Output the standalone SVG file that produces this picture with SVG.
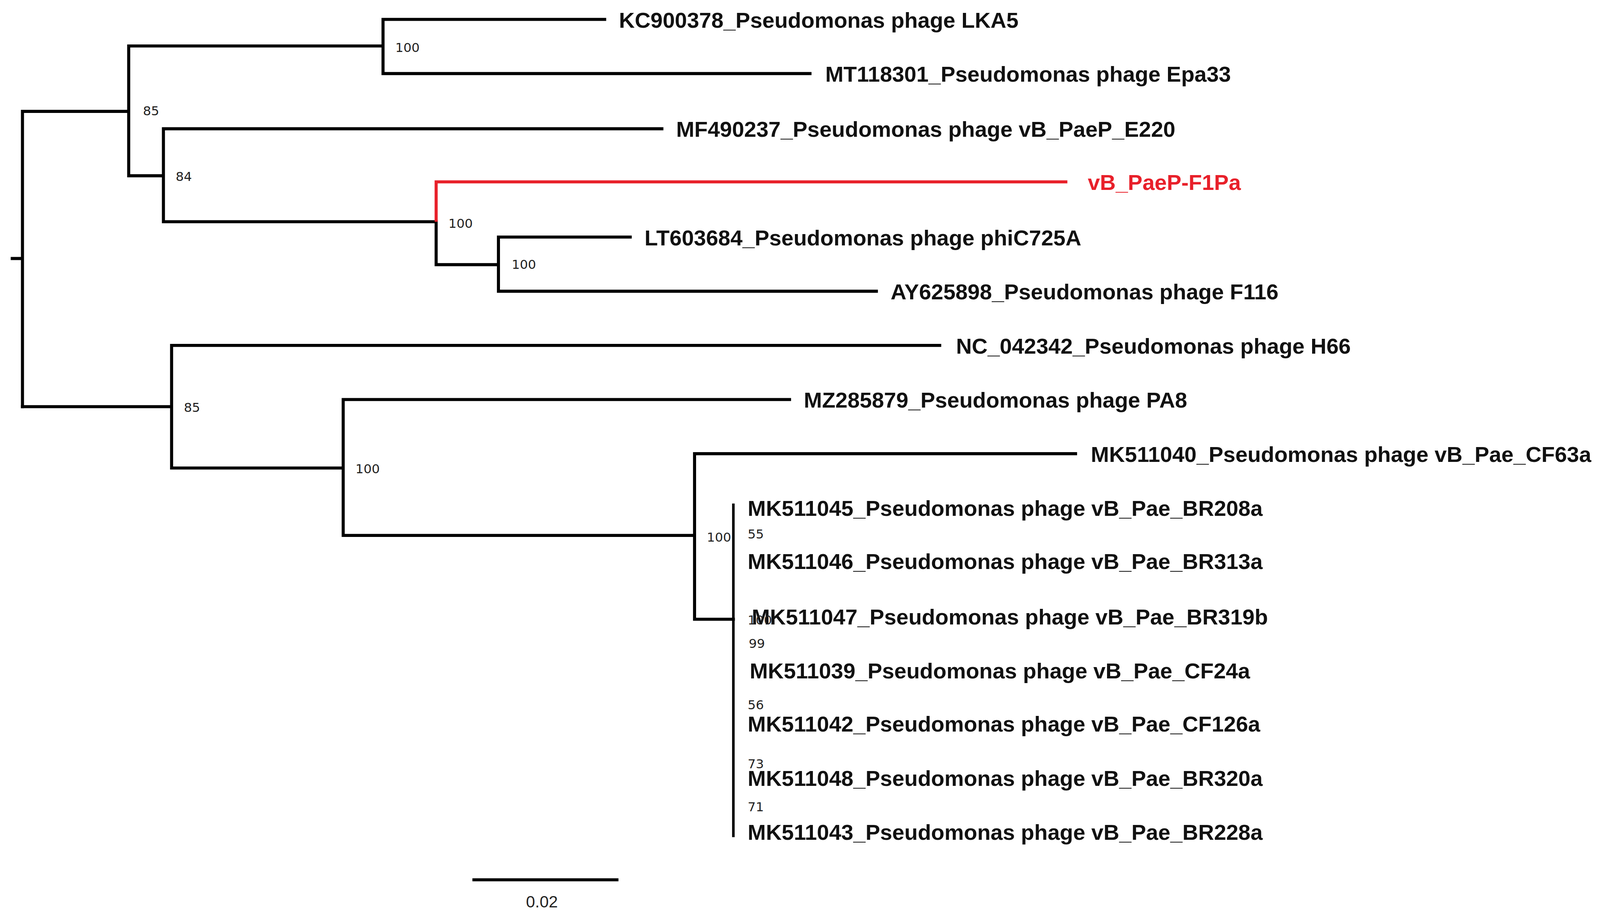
<svg xmlns="http://www.w3.org/2000/svg" width="4100" height="2344" viewBox="0 0 4100 2344">
<style>
.b{fill:none;stroke:#000;stroke-width:3;stroke-linecap:square}
.r{fill:none;stroke:#e8202a;stroke-width:3}
.t{font-family:"Liberation Sans",Arial,sans-serif;font-weight:bold;font-size:21.4px;fill:#111}
.s{font-family:"DejaVu Sans",sans-serif;font-size:12.5px;fill:#222}
</style>
<rect width="4100" height="2344" fill="#fff"/>
<g transform="scale(2.6148)">
<g id="connectors">
<path class="b" d="M12 253H22M22 109V398M22 109H126M126 45V172M126 45H375M375 19V72M375 19H592M375 72H793M126 172H160M160 126V217M160 126H648M160 217H427M427 217V259M427 259H488M488 232V285M488 232H617M488 285H858"/>
<path class="r" d="M427 217V178H1045"/>
<path class="b" d="M22 398H168M168 338V458M168 338H920M168 458H336M336 391V524M336 391H773M336 524H680M680 444V606M680 444H1053M680 606H718"/>
<path class="b" style="stroke-width:2.5" d="M718 494V818"/>
<path class="b" d="M464 861H604"/>
</g>
<g id="labels" class="t">
<text x="606" y="27">KC900378_Pseudomonas phage LKA5</text>
<text x="808" y="80">MT118301_Pseudomonas phage Epa33</text>
<text x="662" y="134">MF490237_Pseudomonas phage vB_PaeP_E220</text>
<text x="1065" y="186" style="fill:#e8202a">vB_PaeP-F1Pa</text>
<text x="631" y="240">LT603684_Pseudomonas phage phiC725A</text>
<text x="872" y="293">AY625898_Pseudomonas phage F116</text>
<text x="936" y="346">NC_042342_Pseudomonas phage H66</text>
<text x="787" y="399">MZ285879_Pseudomonas phage PA8</text>
<text x="1068" y="452">MK511040_Pseudomonas phage vB_Pae_CF63a</text>
<text x="732" y="505">MK511045_Pseudomonas phage vB_Pae_BR208a</text>
<text x="732" y="557">MK511046_Pseudomonas phage vB_Pae_BR313a</text>
<text x="736" y="611">MK511047_Pseudomonas phage vB_Pae_BR319b</text>
<text x="734" y="664">MK511039_Pseudomonas phage vB_Pae_CF24a</text>
<text x="732" y="716">MK511042_Pseudomonas phage vB_Pae_CF126a</text>
<text x="732" y="769">MK511048_Pseudomonas phage vB_Pae_BR320a</text>
<text x="732" y="822">MK511043_Pseudomonas phage vB_Pae_BR228a</text>
</g>
<g id="support" class="s">
<text x="387" y="51">100</text>
<text x="140" y="113">85</text>
<text x="172" y="177">84</text>
<text x="439" y="223">100</text>
<text x="501" y="263">100</text>
<text x="180" y="403">85</text>
<text x="348" y="463">100</text>
<text x="692" y="530">100</text>
<text x="732" y="527">55</text>
<text x="732" y="611">100</text>
<text x="733" y="634">99</text>
<text x="732" y="694">56</text>
<text x="732" y="752">73</text>
<text x="732" y="794">71</text>
<text x="515" y="888" style="font-family:'Liberation Sans',Arial,sans-serif;font-size:16px">0.02</text>
</g>
</g>
</svg>
